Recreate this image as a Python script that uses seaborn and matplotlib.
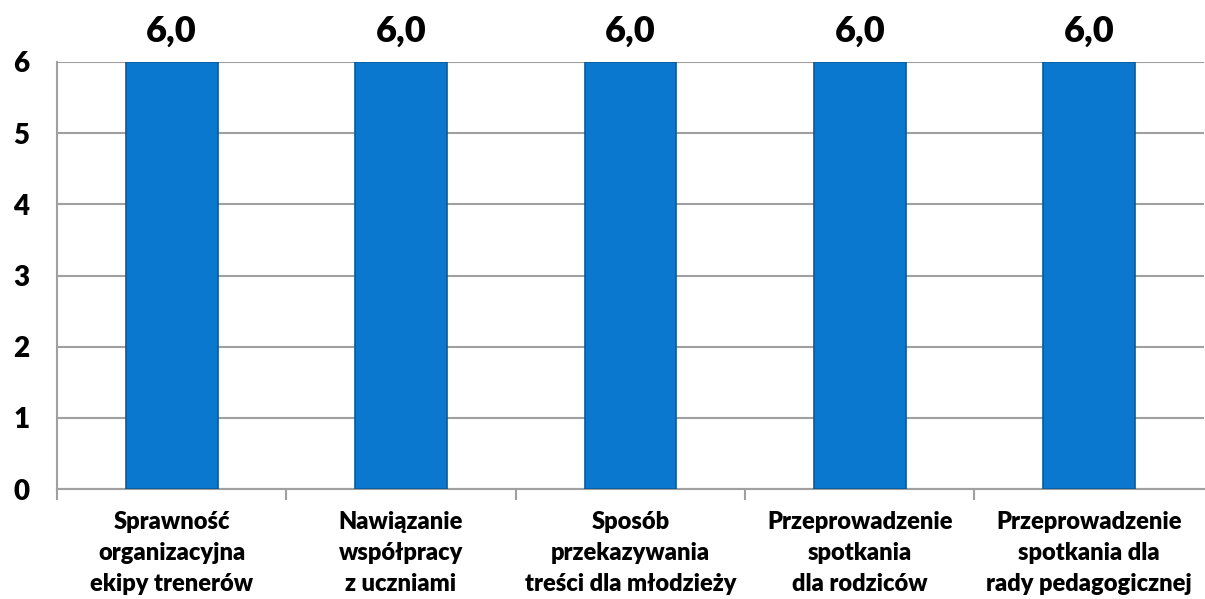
import matplotlib
matplotlib.use("Agg")
import matplotlib.pyplot as plt
from matplotlib.ticker import FixedLocator
import pandas as pd
import numpy as np
import seaborn as sns

# categories and mean scores
categories = [
    "Sprawność\norganizacyjna\nekipy trenerów",
    "Nawiązanie\nwspółpracy\nz uczniami",
    "Sposób\nprzekazywania\ntreści dla młodzieży",
    "Przeprowadzenie\nspotkania\ndla rodziców",
    "Przeprowadzenie\nspotkania dla\nrady pedagogicznej",
]
scores = [6.0, 6.0, 6.0, 6.0, 6.0]
y_ticks = [0, 1, 2, 3, 4, 5, 6]

df = pd.DataFrame({"kategoria": categories, "ocena": scores})

sns.set_theme(style="white")
plt.rcParams["font.family"] = ["Lato", "DejaVu Sans"]

fig = plt.figure(figsize=(12.05, 5.99), dpi=100)
ax = fig.add_axes([0.0473, 0.1836, 0.9517, 0.7129])

sns.barplot(data=df, x="kategoria", y="ocena", color="#0A78CE", width=0.4,
            saturation=1, edgecolor="#0A5A9A", linewidth=1.2, ax=ax, zorder=3)

ax.set_ylim(0, 6)
ax.set_xlim(-0.5, len(categories) - 0.5)
ax.set_yticks(y_ticks)
ax.yaxis.grid(True, color="#A0A0A0", linewidth=1.5, zorder=0)
ax.set_axisbelow(True)

for s in ["top", "right"]:
    ax.spines[s].set_visible(False)
for s in ["left", "bottom"]:
    ax.spines[s].set_color("#A0A0A0")
    ax.spines[s].set_linewidth(1.5)

ax.tick_params(axis="y", which="major", length=10, color="#A0A0A0", width=1.5,
               labelsize=20, pad=10)
ax.tick_params(axis="x", which="major", length=0, labelsize=17, pad=16)
ax.xaxis.set_minor_locator(FixedLocator(np.arange(-0.5, len(categories) - 0.6, 1.0)))
ax.tick_params(axis="x", which="minor", length=8, color="#A0A0A0", width=1.5,
               bottom=True)

for lbl in ax.get_yticklabels() + ax.get_xticklabels():
    lbl.set_fontweight("heavy")
    lbl.set_color("black")
for lbl in ax.get_xticklabels():
    lbl.set_linespacing(1.5)

ax.set_xlabel("")
ax.set_ylabel("")

for i, v in enumerate(scores):
    ax.text(i, v + 0.2, f"{v:.1f}".replace(".", ","), ha="center", va="bottom",
            fontsize=26, fontweight="heavy", color="black")

fig.savefig("out.png", dpi=100)
